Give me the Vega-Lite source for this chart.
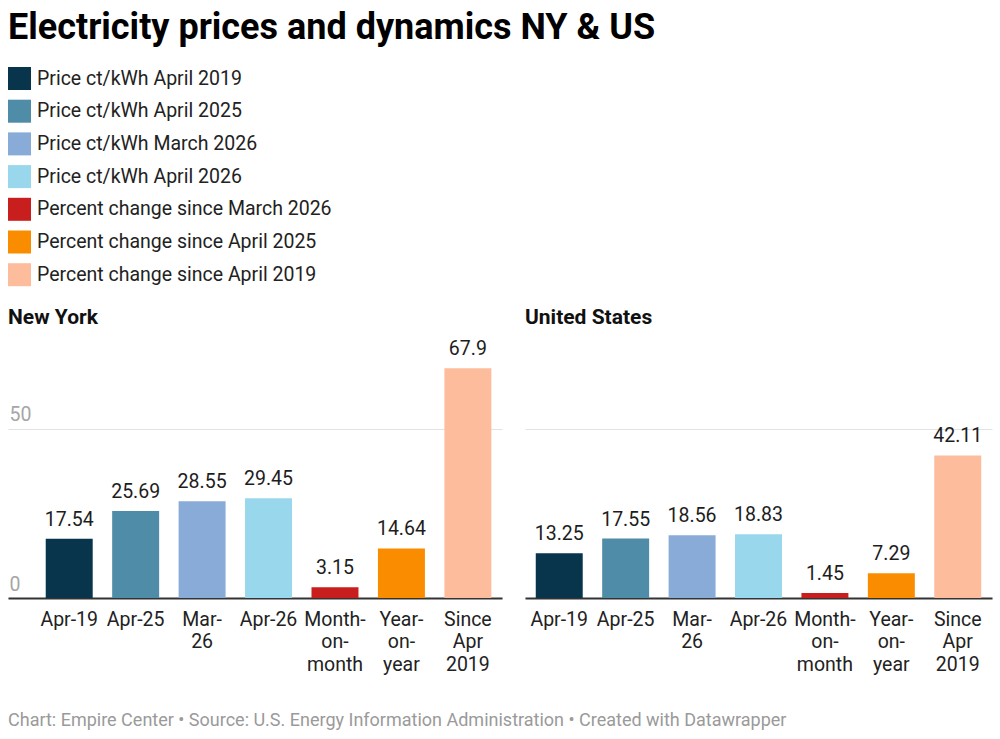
{
  "$schema": "https://vega.github.io/schema/vega-lite/v6.json",
  "background": "white",
  "padding": {"left": 8, "right": 8, "top": 10, "bottom": 8},
  "title": {
    "text": "Electricity prices and dynamics NY & US",
    "anchor": "start",
    "font": "Roboto",
    "fontSize": 36,
    "fontWeight": "bold",
    "color": "#000000",
    "baseline": "alphabetic",
    "offset": -8
  },
  "data": {
    "values": [
      {"region": "New York", "period": "Apr-19", "series": "Price ct/kWh April 2019", "value": 17.54},
      {"region": "New York", "period": "Apr-25", "series": "Price ct/kWh April 2025", "value": 25.69},
      {"region": "New York", "period": "Mar-26", "series": "Price ct/kWh March 2026", "value": 28.55},
      {"region": "New York", "period": "Apr-26", "series": "Price ct/kWh April 2026", "value": 29.45},
      {"region": "New York", "period": "Month-on-month", "series": "Percent change since March 2026", "value": 3.15},
      {"region": "New York", "period": "Year-on-year", "series": "Percent change since April 2025", "value": 14.64},
      {"region": "New York", "period": "Since Apr 2019", "series": "Percent change since April 2019", "value": 67.9},
      {"region": "United States", "period": "Apr-19", "series": "Price ct/kWh April 2019", "value": 13.25},
      {"region": "United States", "period": "Apr-25", "series": "Price ct/kWh April 2025", "value": 17.55},
      {"region": "United States", "period": "Mar-26", "series": "Price ct/kWh March 2026", "value": 18.56},
      {"region": "United States", "period": "Apr-26", "series": "Price ct/kWh April 2026", "value": 18.83},
      {"region": "United States", "period": "Month-on-month", "series": "Percent change since March 2026", "value": 1.45},
      {"region": "United States", "period": "Year-on-year", "series": "Percent change since April 2025", "value": 7.29},
      {"region": "United States", "period": "Since Apr 2019", "series": "Percent change since April 2019", "value": 42.11}
    ]
  },
  "vconcat": [
    {
      "title": {
        "text": "Chart: Empire Center • Source: U.S. Energy Information Administration • Created with Datawrapper",
        "orient": "bottom",
        "anchor": "start",
        "font": "Roboto",
        "fontSize": 18,
        "fontWeight": "normal",
        "color": "#9a9a9a",
        "baseline": "top",
        "offset": 38
      },
      "hconcat": [
        {
          "title": {"text": "New York", "anchor": "start", "fontSize": 21, "fontWeight": "bold", "color": "#111111", "baseline": "alphabetic", "offset": -11},
          "width": 494,
          "height": 264,
          "transform": [{"filter": "datum.region == 'New York'"}],
          "encoding": {
            "x": {
              "field": "period",
              "type": "nominal",
              "sort": ["Apr-19", "Apr-25", "Mar-26", "Apr-26", "Month-on-month", "Year-on-year", "Since Apr 2019"],
              "scale": {"paddingInner": 0.293, "paddingOuter": 0.364, "align": 0.78},
              "axis": {"title": null}
            },
            "y": {
              "field": "value",
              "type": "quantitative",
              "scale": {"domain": [0, 78]},
              "axis": {
                "title": null,
                "values": [0, 50],
                "grid": true,
                "domain": false,
                "ticks": false,
                "tickSize": 0,
                "labelAlign": "left",
                "labelBaseline": "alphabetic",
                "labelPadding": -1,
                "labelOffset": -8,
                "labelColor": "#a6a6a6",
                "labelFontSize": 19.5
              }
            }
          },
          "layer": [
            {
              "mark": {"type": "bar"},
              "encoding": {
                "color": {
                  "field": "series",
                  "type": "nominal",
                  "scale": {
                    "domain": ["Price ct/kWh April 2019", "Price ct/kWh April 2025", "Price ct/kWh March 2026", "Price ct/kWh April 2026", "Percent change since March 2026", "Percent change since April 2025", "Percent change since April 2019"],
                    "range": ["#08344c", "#4e8ca8", "#88abd8", "#98d7ec", "#c81e1e", "#fa8c00", "#fdbc9c"]
                  },
                  "legend": {"title": null}
                }
              }
            },
            {
              "mark": {"type": "text", "dy": -13, "baseline": "alphabetic", "fontSize": 19.5, "color": "#1d1d1d"},
              "encoding": {"text": {"field": "value", "type": "quantitative"}}
            }
          ]
        },
        {
          "title": {"text": "United States", "anchor": "start", "fontSize": 21, "fontWeight": "bold", "color": "#111111", "baseline": "alphabetic", "offset": -11},
          "width": 467,
          "height": 264,
          "transform": [{"filter": "datum.region == 'United States'"}],
          "encoding": {
            "x": {
              "field": "period",
              "type": "nominal",
              "sort": ["Apr-19", "Apr-25", "Mar-26", "Apr-26", "Month-on-month", "Year-on-year", "Since Apr 2019"],
              "scale": {"paddingInner": 0.293, "paddingOuter": 0.162, "align": 0.5},
              "axis": {"title": null}
            },
            "y": {
              "field": "value",
              "type": "quantitative",
              "scale": {"domain": [0, 78]},
              "axis": {
                "title": null,
                "values": [0, 50],
                "grid": true,
                "domain": false,
                "ticks": false,
                "tickSize": 0,
                "labels": false
              }
            }
          },
          "layer": [
            {
              "mark": {"type": "bar"},
              "encoding": {
                "color": {"field": "series", "type": "nominal"}
              }
            },
            {
              "mark": {"type": "text", "dy": -13, "baseline": "alphabetic", "fontSize": 19.5, "color": "#1d1d1d"},
              "encoding": {"text": {"field": "value", "type": "quantitative"}}
            }
          ]
        }
      ]
    }
  ],
  "resolve": {"scale": {"color": "shared"}},
  "config": {
    "font": "Roboto",
    "view": {"stroke": null},
    "concat": {"spacing": 23},
    "axisY": {"gridColor": "#e2e2e2", "gridWidth": 1},
    "axisX": {
      "domain": true,
      "domainColor": "#333333",
      "domainWidth": 2,
      "ticks": false,
      "tickSize": 0,
      "labelAngle": 0,
      "labelFontSize": 19.5,
      "labelColor": "#222222",
      "labelPadding": 12,
      "labelBaseline": "top",
      "labelLineHeight": 22.5,
      "labelOverlap": false,
      "labelLimit": 0,
      "labelExpr": "datum.label == 'Mar-26' ? ['Mar-', '26'] : datum.label == 'Month-on-month' ? ['Month-', 'on-', 'month'] : datum.label == 'Year-on-year' ? ['Year-', 'on-', 'year'] : datum.label == 'Since Apr 2019' ? ['Since', 'Apr', '2019'] : datum.label"
    },
    "legend": {
      "orient": "top",
      "direction": "vertical",
      "symbolType": "square",
      "symbolSize": 529,
      "symbolStrokeWidth": 0,
      "symbolOpacity": 1,
      "labelFontSize": 19.5,
      "labelColor": "#222222",
      "labelOffset": 6,
      "labelLimit": 0,
      "rowPadding": 9.7,
      "offset": 20,
      "padding": 0
    }
  }
}
